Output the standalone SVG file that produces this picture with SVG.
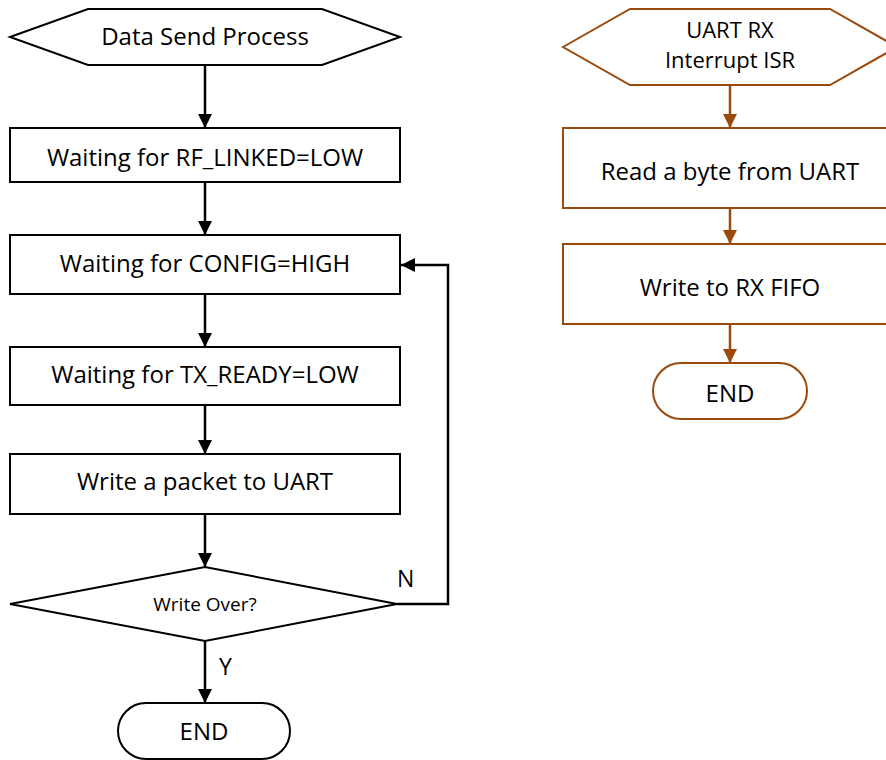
<svg xmlns="http://www.w3.org/2000/svg" width="886" height="760" viewBox="0 0 886 760">
<defs>
<marker id="ab" markerWidth="14" markerHeight="14" refX="14" refY="7" orient="auto" markerUnits="userSpaceOnUse"><path d="M0,0 L14,7 L0,14 Z" fill="#000"/></marker>
<marker id="ao" markerWidth="14" markerHeight="14" refX="14" refY="7" orient="auto" markerUnits="userSpaceOnUse"><path d="M0,0 L14,7 L0,14 Z" fill="#9a4a0c"/></marker>
</defs>
<style>
.k{fill:#fff;stroke:#000;stroke-width:2}
.o{fill:#fff;stroke:#9a4a0c;stroke-width:2}
.t{font-family:"Open Sans","Liberation Sans",Arial,sans-serif;font-size:24px;fill:#000;text-anchor:middle}
.s{font-size:19px}
.m{font-size:23px}
.h{font-size:22px}
.ck{fill:none;stroke:#000;stroke-width:2.5}
.co{fill:none;stroke:#9a4a0c;stroke-width:2.5}
</style>
<rect width="886" height="760" fill="#fff"/>
<g id="connectors">
<path class="ck" d="M205,65 V128" marker-end="url(#ab)"/>
<path class="ck" d="M205,182 V235" marker-end="url(#ab)"/>
<path class="ck" d="M205,294 V347" marker-end="url(#ab)"/>
<path class="ck" d="M205,405 V454" marker-end="url(#ab)"/>
<path class="ck" d="M205,514 V567" marker-end="url(#ab)"/>
<path class="ck" d="M205,641 V703" marker-end="url(#ab)"/>
<path class="ck" d="M397,604 H448 V265 H401" marker-end="url(#ab)"/>
<text class="t m" x="397" y="587" style="text-anchor:start">N</text>
<text class="t m" x="219" y="675" style="text-anchor:start">Y</text>
<path class="co" d="M730,85 V128" marker-end="url(#ao)"/>
<path class="co" d="M730,208 V244" marker-end="url(#ao)"/>
<path class="co" d="M730,324 V363" marker-end="url(#ao)"/>
</g>
<g id="start-send">
<polygon class="k" points="10,37 88,9 322,9 400,37 322,65 88,65"/>
<text class="t" x="205" y="45">Data Send Process</text>
</g>
<g id="wait-rf">
<rect class="k" x="10" y="128" width="390" height="54"/>
<text class="t" x="205" y="166">Waiting for RF_LINKED=LOW</text>
</g>
<g id="wait-config">
<rect class="k" x="10" y="235" width="390" height="59"/>
<text class="t" x="205" y="272">Waiting for CONFIG=HIGH</text>
</g>
<g id="wait-tx">
<rect class="k" x="10" y="347" width="390" height="58"/>
<text class="t" x="205" y="383">Waiting for TX_READY=LOW</text>
</g>
<g id="write-packet">
<rect class="k" x="10" y="454" width="390" height="60"/>
<text class="t" x="205" y="490">Write a packet to UART</text>
</g>
<g id="write-over">
<polygon class="k" points="10,604 205,567 397,604 205,641"/>
<text class="t s" x="205" y="611">Write Over?</text>
</g>
<g id="end-send">
<rect class="k" x="118" y="703" width="172" height="56" rx="28"/>
<text class="t" x="204" y="740">END</text>
</g>
<g id="start-isr">
<polygon class="o" points="563,47 630,9 830,9 897,47 830,85 630,85"/>
<text class="t h" x="730" y="38">UART RX</text>
<text class="t h" x="730" y="68">Interrupt ISR</text>
</g>
<g id="read-byte">
<rect class="o" x="563" y="128" width="334" height="80"/>
<text class="t" x="730" y="180">Read a byte from UART</text>
</g>
<g id="write-fifo">
<rect class="o" x="563" y="244" width="334" height="80"/>
<text class="t" x="730" y="296">Write to RX FIFO</text>
</g>
<g id="end-isr">
<rect class="o" x="653" y="363" width="154" height="56" rx="28"/>
<text class="t" x="730" y="402">END</text>
</g>
</svg>
